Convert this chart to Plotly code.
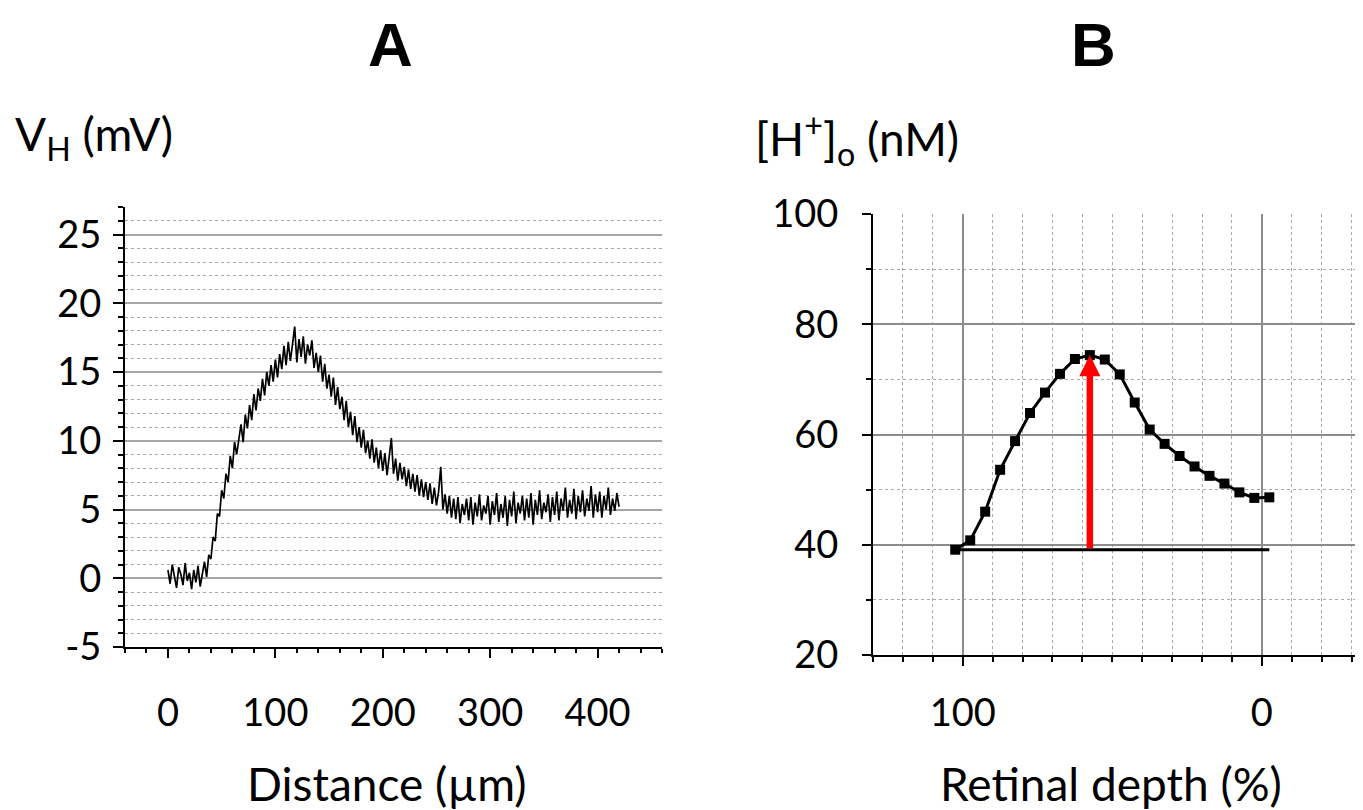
import plotly.graph_objects as go

# ---------------- Panel A data: V_H vs distance ----------------
distance_um = list(range(0, 421, 2))
vh_mv = [
    0.6, -0.4, 1.0, 0.2, -0.7, 0.8, 0.3, -0.5, 1.1, -0.2,
    0.4, -0.8, 0.6, -0.3, 0.9, -0.6, 0.2, 1.2, 0.1, 1.7,
    1.4, 3.0, 2.7, 4.7, 4.5, 6.4, 5.8, 7.6, 7.0, 8.9,
    8.0, 9.9, 9.0, 10.1, 11.2, 9.9, 11.9, 10.9, 12.6, 11.5,
    13.4, 12.2, 13.8, 12.9, 14.5, 13.3, 15.0, 14.0, 15.5, 14.3,
    15.9, 14.6, 16.3, 15.2, 16.9, 15.5, 17.2, 15.8, 16.9, 18.3,
    15.7, 17.4, 16.1, 17.6, 15.6, 17.0, 16.2, 17.3, 15.3, 16.4,
    15.0, 16.2, 14.3, 15.6, 13.8, 14.8, 13.2, 14.6, 12.6, 13.9,
    12.3, 13.2, 11.5, 12.9, 11.0, 12.1, 10.4, 11.8, 9.9, 11.0,
    9.5, 10.8, 9.1, 10.0, 8.7, 10.1, 8.4, 9.5, 8.0, 9.3,
    7.8, 9.1, 7.5, 8.8, 10.2, 7.6, 8.7, 7.1, 8.4, 7.2,
    8.1, 6.7, 7.9, 6.5, 7.6, 6.3, 7.5, 6.0, 7.2, 5.9,
    7.0, 5.7, 6.9, 5.4, 6.6, 5.3, 6.3, 8.1, 5.0, 6.1,
    4.7, 6.0, 4.4, 5.8, 4.3, 5.9, 4.0, 5.4, 4.6, 5.8,
    4.2, 5.9, 3.9, 5.5, 4.5, 6.1, 4.2, 5.3, 4.7, 6.0,
    3.9, 5.6, 4.6, 6.2, 4.1, 5.4, 4.4, 6.0, 3.8, 5.7,
    4.5, 6.3, 4.0, 5.5, 4.7, 6.0, 4.2, 5.8, 4.4, 6.2,
    3.9, 5.7, 4.6, 6.4, 4.3, 5.5, 4.8, 6.1, 4.1, 5.9,
    4.6, 6.3, 4.2, 5.8, 4.9, 6.6, 4.4, 5.7, 4.7, 6.5,
    4.3, 6.0, 4.8, 6.4, 4.5, 5.8, 4.9, 6.7, 4.4, 6.1,
    4.8, 6.3, 4.4, 6.0, 5.0, 6.6, 4.6, 5.8, 4.9, 6.2,
    5.2,
]
a_ytick_vals = [-5, 0, 5, 10, 15, 20, 25]
a_ytick_text = ["-5", "0", "5", "10", "15", "20", "25"]

# ---------------- Panel B data: [H+]o vs retinal depth ----------------
depth_pct = [102.5, 97.5, 92.5, 87.5, 82.5, 77.5, 72.5, 67.5, 62.5, 57.5, 52.5,
             47.5, 42.5, 37.5, 32.5, 27.5, 22.5, 17.5, 12.5, 7.5, 2.5, -2.5]
h_nm = [39.1, 40.8, 46.0, 53.6, 58.8, 63.9, 67.6, 71.0, 73.7, 74.4, 73.6,
        70.9, 65.8, 60.9, 58.3, 56.1, 54.2, 52.5, 51.1, 49.5, 48.5, 48.6]
baseline_x = [102.5, -2.5]
baseline_y = [39.1, 39.1]
arrow_x = 57.5
arrow_y_from = 39.1
arrow_y_to = 74.4

# ---------------- layout helpers ----------------
W, H = 1363, 810
OFF = 8  # page body margin of the html page
FONT = "Lato"


def fx(p):
    return (p - OFF) / W


def fy(p):
    return 1 - (p - OFF) / H


MAJOR_GRID_A = "#a6a6a6"
MAJOR_GRID_B = "#8c8c8c"
MINOR_GRID = "#a8a8a8"

fig = go.Figure()
fig.add_trace(go.Scatter(
    x=distance_um, y=vh_mv, mode="lines",
    line=dict(color="black", width=1.7),
    xaxis="x", yaxis="y", showlegend=False, hoverinfo="skip"))
fig.add_trace(go.Scatter(
    x=baseline_x, y=baseline_y, mode="lines",
    line=dict(color="black", width=3),
    xaxis="x2", yaxis="y2", showlegend=False))
fig.add_trace(go.Scatter(
    x=depth_pct, y=h_nm, mode="lines+markers",
    line=dict(color="black", width=3),
    marker=dict(symbol="square", size=10, color="black"),
    xaxis="x2", yaxis="y2", showlegend=False))

tickfont = dict(family=FONT, size=38, color="black")

fig.update_layout(
    width=W, height=H,
    margin=dict(l=0, r=0, t=0, b=0, pad=0, autoexpand=False),
    paper_bgcolor="white", plot_bgcolor="white",
    showlegend=False,
    xaxis=dict(
        domain=[fx(125), fx(662)], anchor="y", range=[-40, 460],
        automargin=False,
        showline=True, linecolor="black", linewidth=2,
        ticks="outside", ticklen=9, tickwidth=2, tickcolor="black",
        tick0=0, dtick=100, showgrid=False, zeroline=False,
        tickfont=tickfont, ticklabelstandoff=22,
        minor=dict(tick0=0, dtick=20, ticks="outside", ticklen=4,
                   tickwidth=1.5, tickcolor="black", showgrid=False),
    ),
    yaxis=dict(
        domain=[fy(647), fy(207)], anchor="x", range=[-5, 27],
        automargin=False,
        showline=True, linecolor="black", linewidth=2,
        ticks="outside", ticklen=10, tickwidth=2, tickcolor="black",
        tickmode="array", tickvals=a_ytick_vals, ticktext=a_ytick_text,
        showgrid=True, gridcolor=MAJOR_GRID_A, gridwidth=1.5, zeroline=False,
        tickfont=tickfont, ticklabelstandoff=4,
        minor=dict(tick0=0, dtick=1, ticks="outside", ticklen=5,
                   tickwidth=1.5, tickcolor="black", showgrid=True,
                   gridcolor=MINOR_GRID, gridwidth=1, griddash="dot"),
    ),
    xaxis2=dict(
        domain=[fx(873), 1.0], anchor="y2", range=[130, -36.5],
        automargin=False,
        showline=True, linecolor="black", linewidth=2,
        ticks="outside", ticklen=9, tickwidth=2, tickcolor="black",
        tick0=0, dtick=100, showgrid=True, gridcolor=MAJOR_GRID_B, gridwidth=1.5,
        zeroline=False, tickfont=tickfont, ticklabelstandoff=14,
        minor=dict(tick0=0, dtick=10, ticks="outside", ticklen=5,
                   tickwidth=1.5, tickcolor="black", showgrid=True,
                   gridcolor=MINOR_GRID, gridwidth=1, griddash="dot"),
    ),
    yaxis2=dict(
        domain=[fy(655), fy(214)], anchor="x2", range=[20, 100],
        automargin=False,
        showline=True, linecolor="black", linewidth=2,
        ticks="outside", ticklen=9, tickwidth=2, tickcolor="black",
        tick0=0, dtick=20, showgrid=True, gridcolor=MAJOR_GRID_B, gridwidth=1.5,
        zeroline=False, tickfont=tickfont, ticklabelstandoff=16,
        minor=dict(tick0=0, dtick=10, ticks="outside", ticklen=5,
                   tickwidth=1.5, tickcolor="black", showgrid=True,
                   gridcolor=MINOR_GRID, gridwidth=1, griddash="dot"),
    ),
)

labelfont = dict(family=FONT, size=46, color="black")
titlefont = dict(family="Liberation Sans", size=62, color="black", weight="bold")

annotations = [
    dict(text="<b>A</b>", x=fx(390), y=1.0, font=titlefont,
         xanchor="center", yanchor="top"),
    dict(text="<b>B</b>", x=fx(1093), y=1.0, font=titlefont,
         xanchor="center", yanchor="top"),
    dict(text="V<sub>H</sub> (mV)", x=fx(13), y=fy(137), font=labelfont,
         xanchor="left", yanchor="middle"),
    dict(text="[H<sup>+</sup>]<sub>o</sub> (nM)", x=fx(753), y=fy(139),
         font=labelfont, xanchor="left", yanchor="middle"),
    dict(text="Distance (µm)", x=fx(387), y=fy(783), font=labelfont,
         xanchor="center", yanchor="middle"),
    dict(text="Retinal depth (%)", x=fx(1111), y=fy(783), font=labelfont,
         xanchor="center", yanchor="middle"),
]
for a in annotations:
    a.update(xref="paper", yref="paper", showarrow=False)

# red arrow marking the peak
annotations.append(dict(
    x=arrow_x, y=arrow_y_to, ax=arrow_x, ay=arrow_y_from,
    xref="x2", yref="y2", axref="x2", ayref="y2",
    text="", showarrow=True, arrowhead=2, arrowsize=0.65,
    arrowwidth=6.5, arrowcolor="#ff0000", standoff=0,
))

fig.update_layout(annotations=annotations)

fig.write_html("out.html")
